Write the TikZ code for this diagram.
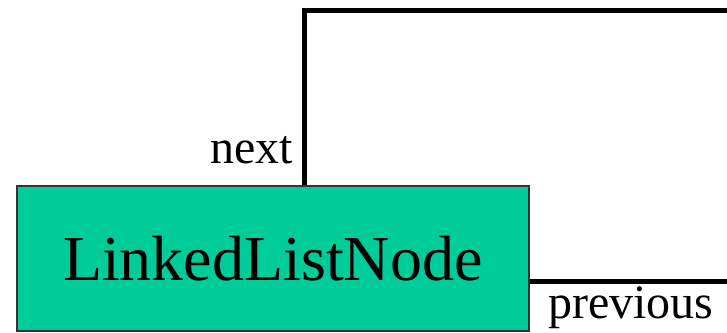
\documentclass[tikz,border=0pt]{standalone}
\usepackage{fontspec}
\setmainfont{Liberation Serif}
\definecolor{nodegreen}{HTML}{00CC99}
\definecolor{boxborder}{HTML}{333333}
\begin{document}
\begin{tikzpicture}[x=1pt,y=1pt,
  classbox/.style={draw=boxborder, line width=1.5pt, fill=nodegreen, minimum width=512pt, minimum height=145pt, inner sep=0pt, anchor=north west, font=\fontsize{64}{70}\selectfont},
  link/.style={line width=5pt, line join=miter, draw=black},
  lbl/.style={inner sep=0pt, font=\fontsize{48}{52}\selectfont}]
\useasboundingbox (0,-332) rectangle (727,0);
\node[classbox] (box) at (16,-185) {LinkedListNode};
\coordinate (nexttop) at (304.5,-10);
\coordinate (nextend) at (730,-10);
\coordinate (prevend) at (730,-281.5);
\draw[link] (box.north -| nexttop) -- (nexttop) -- (nextend);
\draw[link] (box.east |- prevend) -- (prevend);
\node[lbl, anchor=base east] (nextlbl) at (293,-163) {next};
\node[lbl, anchor=base west] (prevlbl) at (548,-318) {previous};
\end{tikzpicture}
\end{document}
